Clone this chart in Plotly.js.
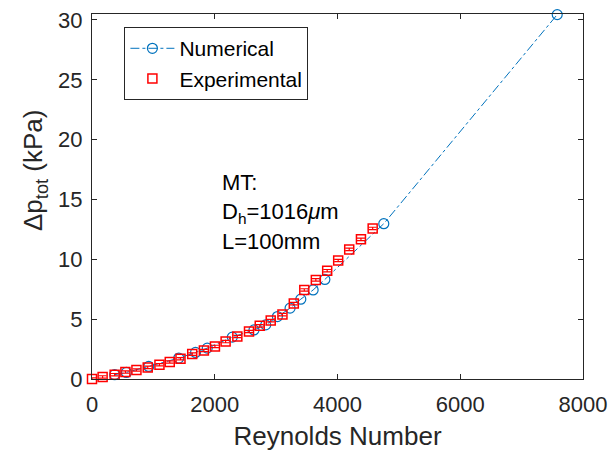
<!DOCTYPE html>
<html>
<head>
<meta charset="utf-8">
<script src="https://cdn.plot.ly/plotly-3.0.1.min.js"></script>
<style>html,body{margin:0;padding:0;background:#fff;}#chart{width:613px;height:458px;}</style>
</head>
<body>
<div id="chart"></div>
<script>
// Numerical (simulation) results
const numRe = [369, 560, 924, 1414, 1687, 1878, 2286, 2639, 2830, 3021, 3227, 3402, 3603, 3794, 4754, 7580];
const numDp = [0.36, 0.55, 1.05, 1.75, 2.22, 2.58, 3.5, 4.1, 4.52, 5.22, 5.92, 6.67, 7.44, 8.32, 12.98, 30.45];

// Experimental results
const expRe = [0, 173, 369, 544, 724, 908, 1099, 1267, 1442, 1633, 1823, 2003, 2177, 2368, 2558, 2733, 2912, 3103, 3288, 3459, 3647, 3832, 4011, 4191, 4382, 4573];
const expDp = [0, 0.17, 0.36, 0.58, 0.75, 0.97, 1.19, 1.42, 1.69, 2.08, 2.38, 2.72, 3.13, 3.55, 3.97, 4.44, 4.88, 5.38, 6.3, 7.44, 8.28, 9.05, 9.9, 10.83, 11.67, 12.58];
const expErr = expDp.map(() => 0.1);

const xTicks = [0, 2000, 4000, 6000, 8000];
const yTicks = [0, 5, 10, 15, 20, 25, 30];

const axisColor = '#262626';
const font = 'Liberation Sans, Arial, Helvetica, sans-serif';

const traces = [
  {
    x: numRe, y: numDp, name: 'Numerical', type: 'scatter', mode: 'lines+markers',
    line: {color: '#0072BD', width: 1, dash: 'dashdot'},
    marker: {symbol: 'circle-open', size: 10, color: '#0072BD', line: {width: 1.2, color: '#0072BD'}},
    cliponaxis: false
  },
  {
    x: expRe, y: expDp, name: 'Experimental', type: 'scatter', mode: 'markers',
    marker: {symbol: 'square-open', size: 9, color: '#FF0000', line: {width: 1.5, color: '#FF0000'}},
    error_y: {type: 'data', array: expErr, visible: true, color: '#FF0000', thickness: 1.2, width: 4},
    cliponaxis: false
  }
];

const layout = {
  width: 613, height: 458,
  margin: {l: 92, r: 30, t: 14, b: 79},
  paper_bgcolor: '#ffffff', plot_bgcolor: '#ffffff',
  font: {family: font, size: 22, color: axisColor},
  showlegend: true,
  legend: {
    x: 0.066, y: 0.964, xanchor: 'left', yanchor: 'top',
    bgcolor: '#ffffff', bordercolor: axisColor, borderwidth: 1,
    font: {family: font, size: 21, color: '#000000'},
    itemwidth: 44, tracegroupgap: 0
  },
  xaxis: {
    range: [0, 8000], tickvals: xTicks, ticktext: xTicks.map(String),
    ticks: 'inside', ticklen: 5, tickcolor: axisColor, mirror: 'ticks',
    showline: true, linecolor: axisColor, linewidth: 1, showgrid: false, zeroline: false,
    tickfont: {size: 22, color: axisColor}, ticklabelstandoff: 6,
    title: {text: 'Reynolds Number', font: {size: 26, color: axisColor}, standoff: 10}
  },
  yaxis: {
    range: [0, 30.5], tickvals: yTicks, ticktext: yTicks.map(String),
    ticks: 'inside', ticklen: 5, tickcolor: axisColor, mirror: 'ticks',
    showline: true, linecolor: axisColor, linewidth: 1, showgrid: false, zeroline: false,
    tickfont: {size: 22, color: axisColor}, ticklabelstandoff: 4
  },
  annotations: [
    {xref: 'paper', yref: 'paper', x: -0.116, y: 0.57, xanchor: 'center', yanchor: 'middle',
     textangle: -90, showarrow: false, text: 'Δp<sub>tot</sub> (kPa)', font: {size: 26, color: axisColor}},
    {xref: 'x', yref: 'y', x: 2080, y: 16.4, xanchor: 'left', yanchor: 'middle', showarrow: false,
     text: 'MT:', font: {size: 22, color: '#000000'}},
    {xref: 'x', yref: 'y', x: 2080, y: 13.9, xanchor: 'left', yanchor: 'middle', showarrow: false,
     text: 'D<sub>h</sub>=1016<i>μ</i>m', font: {size: 22, color: '#000000'}},
    {xref: 'x', yref: 'y', x: 2080, y: 11.5, xanchor: 'left', yanchor: 'middle', showarrow: false,
     text: 'L=100mm', font: {size: 22, color: '#000000'}}
  ]
};

Plotly.newPlot('chart', traces, layout, {displayModeBar: false, staticPlot: true});
</script>
</body>
</html>
